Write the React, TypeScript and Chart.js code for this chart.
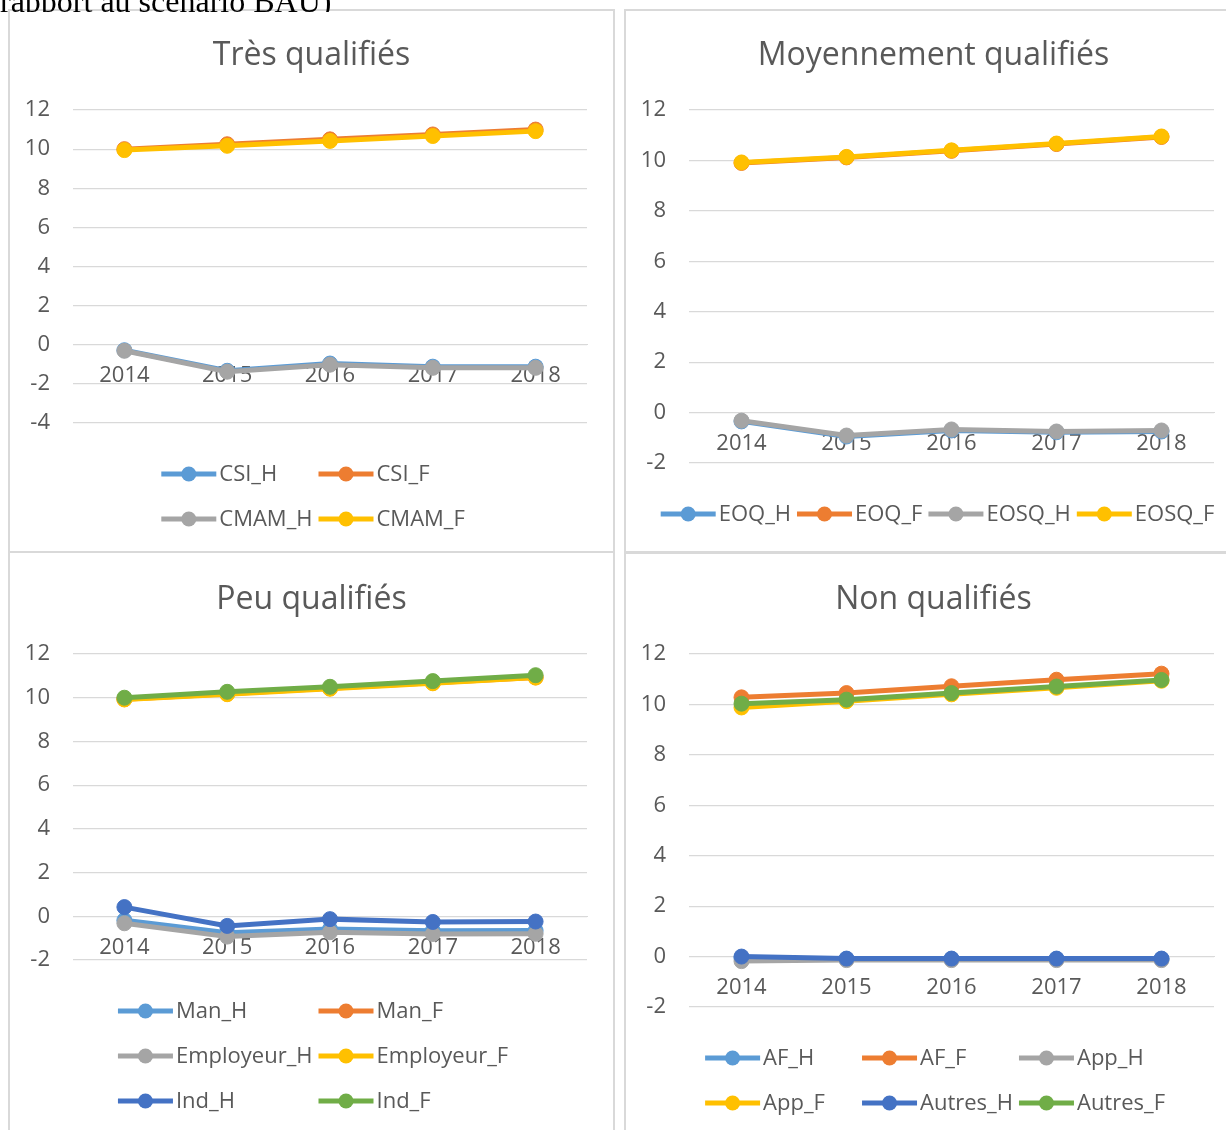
import { useEffect, useRef } from "react";
import { Chart, registerables } from "chart.js";

Chart.register(...registerables);

const FONT = "'Open Sans', 'Noto Sans', sans-serif";
const TEXT = "#595959";
const GRID = "#D9D9D9";

// Palette of the series
const BLUE = "#5B9BD5";
const ORANGE = "#ED7D31";
const GRAY = "#A5A5A5";
const YELLOW = "#FFC000";
const DARK_BLUE = "#4472C4";
const GREEN = "#70AD47";

const years = ["2014", "2015", "2016", "2017", "2018"];

// Très qualifiés
const csiH = [-0.28, -1.33, -0.96, -1.12, -1.12];
const csiF = [10.0, 10.25, 10.5, 10.75, 11.0];
const cmamH = [-0.31, -1.38, -1.02, -1.18, -1.18];
const cmamF = [9.95, 10.17, 10.42, 10.67, 10.92];

// Moyennement qualifiés
const eoqH = [-0.35, -0.95, -0.71, -0.78, -0.75];
const eoqF = [9.9, 10.12, 10.38, 10.65, 10.93];
const eosqH = [-0.32, -0.91, -0.67, -0.75, -0.71];
const eosqF = [9.92, 10.14, 10.4, 10.67, 10.95];

// Peu qualifiés
const manH = [-0.18, -0.75, -0.58, -0.66, -0.65];
const manF = [9.93, 10.18, 10.43, 10.68, 10.93];
const employeurH = [-0.32, -0.93, -0.73, -0.81, -0.8];
const employeurF = [9.92, 10.16, 10.41, 10.66, 10.92];
const indH = [0.42, -0.44, -0.13, -0.26, -0.24];
const indF = [10.0, 10.27, 10.5, 10.76, 11.03];

// Non qualifiés
const afH = [-0.05, -0.1, -0.1, -0.1, -0.1];
const afF = [10.28, 10.45, 10.72, 10.98, 11.22];
const appH = [-0.18, -0.14, -0.14, -0.14, -0.14];
const appF = [9.88, 10.13, 10.4, 10.66, 10.94];
const autresH = [0.0, -0.08, -0.08, -0.08, -0.08];
const autresF = [10.03, 10.19, 10.45, 10.71, 10.97];

type Series = { label: string; data: number[]; color: string };

type PanelCfg = {
  title: string;
  x: number;
  y: number;
  w: number;
  h: number;
  yMin: number;
  yMax: number;
  area: { left: number; right: number; top: number; bottom: number };
  titleY: number;
  legendY: number;
  columns: number;
  flow: boolean;
  series: Series[];
};

const panels: PanelCfg[] = [
  {
    title: "Très qualifiés",
    x: 8, y: 9, w: 607, h: 544,
    yMin: -4, yMax: 12,
    area: { left: 65, right: 579, top: 101, bottom: 414 },
    titleY: 47, legendY: 465, columns: 2, flow: false,
    series: [
      { label: "CSI_H", data: csiH, color: BLUE },
      { label: "CSI_F", data: csiF, color: ORANGE },
      { label: "CMAM_H", data: cmamH, color: GRAY },
      { label: "CMAM_F", data: cmamF, color: YELLOW },
    ],
  },
  {
    title: "Moyennement qualifiés",
    x: 624, y: 9, w: 619, h: 544,
    yMin: -2, yMax: 12,
    area: { left: 65, right: 590, top: 101, bottom: 454 },
    titleY: 47, legendY: 505, columns: 4, flow: true,
    series: [
      { label: "EOQ_H", data: eoqH, color: BLUE },
      { label: "EOQ_F", data: eoqF, color: ORANGE },
      { label: "EOSQ_H", data: eosqH, color: GRAY },
      { label: "EOSQ_F", data: eosqF, color: YELLOW },
    ],
  },
  {
    title: "Peu qualifiés",
    x: 8, y: 551, w: 607, h: 600,
    yMin: -2, yMax: 12,
    area: { left: 65, right: 579, top: 103, bottom: 409 },
    titleY: 49, legendY: 460, columns: 2, flow: false,
    series: [
      { label: "Man_H", data: manH, color: BLUE },
      { label: "Man_F", data: manF, color: ORANGE },
      { label: "Employeur_H", data: employeurH, color: GRAY },
      { label: "Employeur_F", data: employeurF, color: YELLOW },
      { label: "Ind_H", data: indH, color: DARK_BLUE },
      { label: "Ind_F", data: indF, color: GREEN },
    ],
  },
  {
    title: "Non qualifiés",
    x: 624, y: 552, w: 619, h: 600,
    yMin: -2, yMax: 12,
    area: { left: 65, right: 590, top: 102, bottom: 455 },
    titleY: 48, legendY: 506, columns: 3, flow: false,
    series: [
      { label: "AF_H", data: afH, color: BLUE },
      { label: "AF_F", data: afF, color: ORANGE },
      { label: "App_H", data: appH, color: GRAY },
      { label: "App_F", data: appF, color: YELLOW },
      { label: "Autres_H", data: autresH, color: DARK_BLUE },
      { label: "Autres_F", data: autresF, color: GREEN },
    ],
  },
];

const LINE_W = 5;
const POINT_R = 7.5;
const LEGEND_LINE = 55;
const LEGEND_GAP = 3;
const LEGEND_SPACING = 6;
const LEGEND_ROW = 45;
const LEGEND_SHIFT = 4;
const LEGEND_SIZE = 22;
const TITLE_SIZE = 32;
const TICK_SIZE = 22;

// Title and legend painted straight onto each chart canvas
const panelDecor = {
  id: "panelDecor",
  afterDraw(chart: any, _args: any, opts: any) {
    const ctx: CanvasRenderingContext2D = chart.ctx;
    ctx.save();
    ctx.fillStyle = TEXT;
    ctx.font = `${TITLE_SIZE}px ${FONT}`;
    ctx.textAlign = "center";
    ctx.textBaseline = "middle";
    ctx.fillText(opts.title, chart.width / 2, opts.titleY);

    ctx.font = `${LEGEND_SIZE}px ${FONT}`;
    const items = chart.data.datasets.map((d: any) => ({
      label: d.label as string,
      color: d.borderColor as string,
      w: LEGEND_LINE + LEGEND_GAP + ctx.measureText(d.label).width,
    }));
    const cols: number = opts.columns;
    const colW = Math.max(...items.map((i: any) => i.w)) + LEGEND_SPACING;
    const rows: any[][] = [];
    items.forEach((it: any, i: number) => {
      const r = Math.floor(i / cols);
      (rows[r] = rows[r] || []).push(it);
    });
    rows.forEach((row, r) => {
      const widths = row.map((it: any) => (opts.flow ? it.w + LEGEND_SPACING : colW));
      const total = widths.reduce((a: number, b: number) => a + b, 0) - LEGEND_SPACING;
      const fullTotal = opts.flow ? total : cols * colW - LEGEND_SPACING;
      let x = (chart.width - fullTotal) / 2 + LEGEND_SHIFT;
      const y = opts.legendY + r * LEGEND_ROW;
      row.forEach((it: any, i: number) => {
        ctx.strokeStyle = it.color;
        ctx.lineWidth = LINE_W;
        ctx.lineCap = "butt";
        ctx.beginPath();
        ctx.moveTo(x, y);
        ctx.lineTo(x + LEGEND_LINE, y);
        ctx.stroke();
        ctx.fillStyle = it.color;
        ctx.beginPath();
        ctx.arc(x + LEGEND_LINE / 2, y, POINT_R, 0, Math.PI * 2);
        ctx.fill();
        ctx.fillStyle = TEXT;
        ctx.textAlign = "left";
        ctx.textBaseline = "middle";
        ctx.fillText(it.label, x + LEGEND_LINE + LEGEND_GAP, y + 1);
        x += widths[i];
      });
    });
    ctx.restore();
  },
};

function Panel({ cfg }: { cfg: PanelCfg }) {
  const ref = useRef<HTMLCanvasElement>(null);

  useEffect(() => {
    const n = cfg.series.length;
    const chart = new Chart(ref.current as HTMLCanvasElement, {
      type: "line",
      data: {
        labels: years,
        datasets: cfg.series.map((s, i) => ({
          label: s.label,
          data: s.data,
          borderColor: s.color,
          backgroundColor: s.color,
          pointBackgroundColor: s.color,
          pointBorderColor: s.color,
          borderWidth: LINE_W,
          pointRadius: POINT_R,
          pointBorderWidth: 1,
          tension: 0,
          order: n - i,
        })),
      },
      options: {
        responsive: false,
        animation: false,
        events: [],
        layout: {
          padding: {
            left: 0,
            right: cfg.w - cfg.area.right,
            top: cfg.area.top,
            bottom: cfg.h - cfg.area.bottom,
          },
        },
        plugins: {
          legend: { display: false },
          title: { display: false },
          tooltip: { enabled: false },
          panelDecor: {
            title: cfg.title,
            titleY: cfg.titleY,
            legendY: cfg.legendY,
            columns: cfg.columns,
            flow: cfg.flow,
          },
        } as any,
        scales: {
          x: {
            type: "category",
            offset: true,
            position: { y: 0 } as any,
            grid: { display: false, drawTicks: false },
            border: { display: true, color: GRID, width: 1 },
            ticks: {
              color: TEXT,
              font: { family: FONT, size: TICK_SIZE },
              padding: 18,
              maxRotation: 0,
            },
          },
          y: {
            type: "linear",
            min: cfg.yMin,
            max: cfg.yMax,
            afterFit: (scale: any) => {
              scale.width = cfg.area.left;
            },
            grid: { color: GRID, lineWidth: 1.2, drawTicks: false },
            border: { display: false },
            ticks: {
              stepSize: 2,
              color: TEXT,
              padding: 23,
              font: { family: FONT, size: TICK_SIZE },
              callback: (v: any) => String(v),
            },
          },
        },
      },
      plugins: [panelDecor as any],
    });
    return () => chart.destroy();
  }, [cfg]);

  return (
    <div
      style={{
        position: "absolute",
        left: cfg.x,
        top: cfg.y,
        width: cfg.w,
        height: cfg.h,
        background: "#fff",
      }}
    >
      <canvas ref={ref} width={cfg.w} height={cfg.h} style={{ display: "block" }} />
      <div
        style={{
          position: "absolute",
          inset: 0,
          border: `2px solid ${GRID}`,
          boxSizing: "border-box",
          pointerEvents: "none",
        }}
      />
    </div>
  );
}

export default function App() {
  return (
    <div
      style={{
        position: "absolute",
        left: 0,
        top: 0,
        width: 1226,
        height: 1130,
        overflow: "hidden",
        background: "#fff",
      }}
    >
      {panels.map((p) => (
        <Panel key={p.title} cfg={p} />
      ))}
      <div
        style={{
          position: "absolute",
          left: 0,
          top: 0,
          width: 600,
          height: 12,
          overflow: "hidden",
          zIndex: 2,
        }}
      >
        <div
          style={{
            position: "absolute",
            left: 0,
            top: -15,
            fontFamily: "'Liberation Serif', 'Times New Roman', serif",
            fontSize: 32,
            lineHeight: 1,
            whiteSpace: "nowrap",
            color: "#000",
          }}
        >
          rapport au scénario BAU)
        </div>
      </div>
    </div>
  );
}
